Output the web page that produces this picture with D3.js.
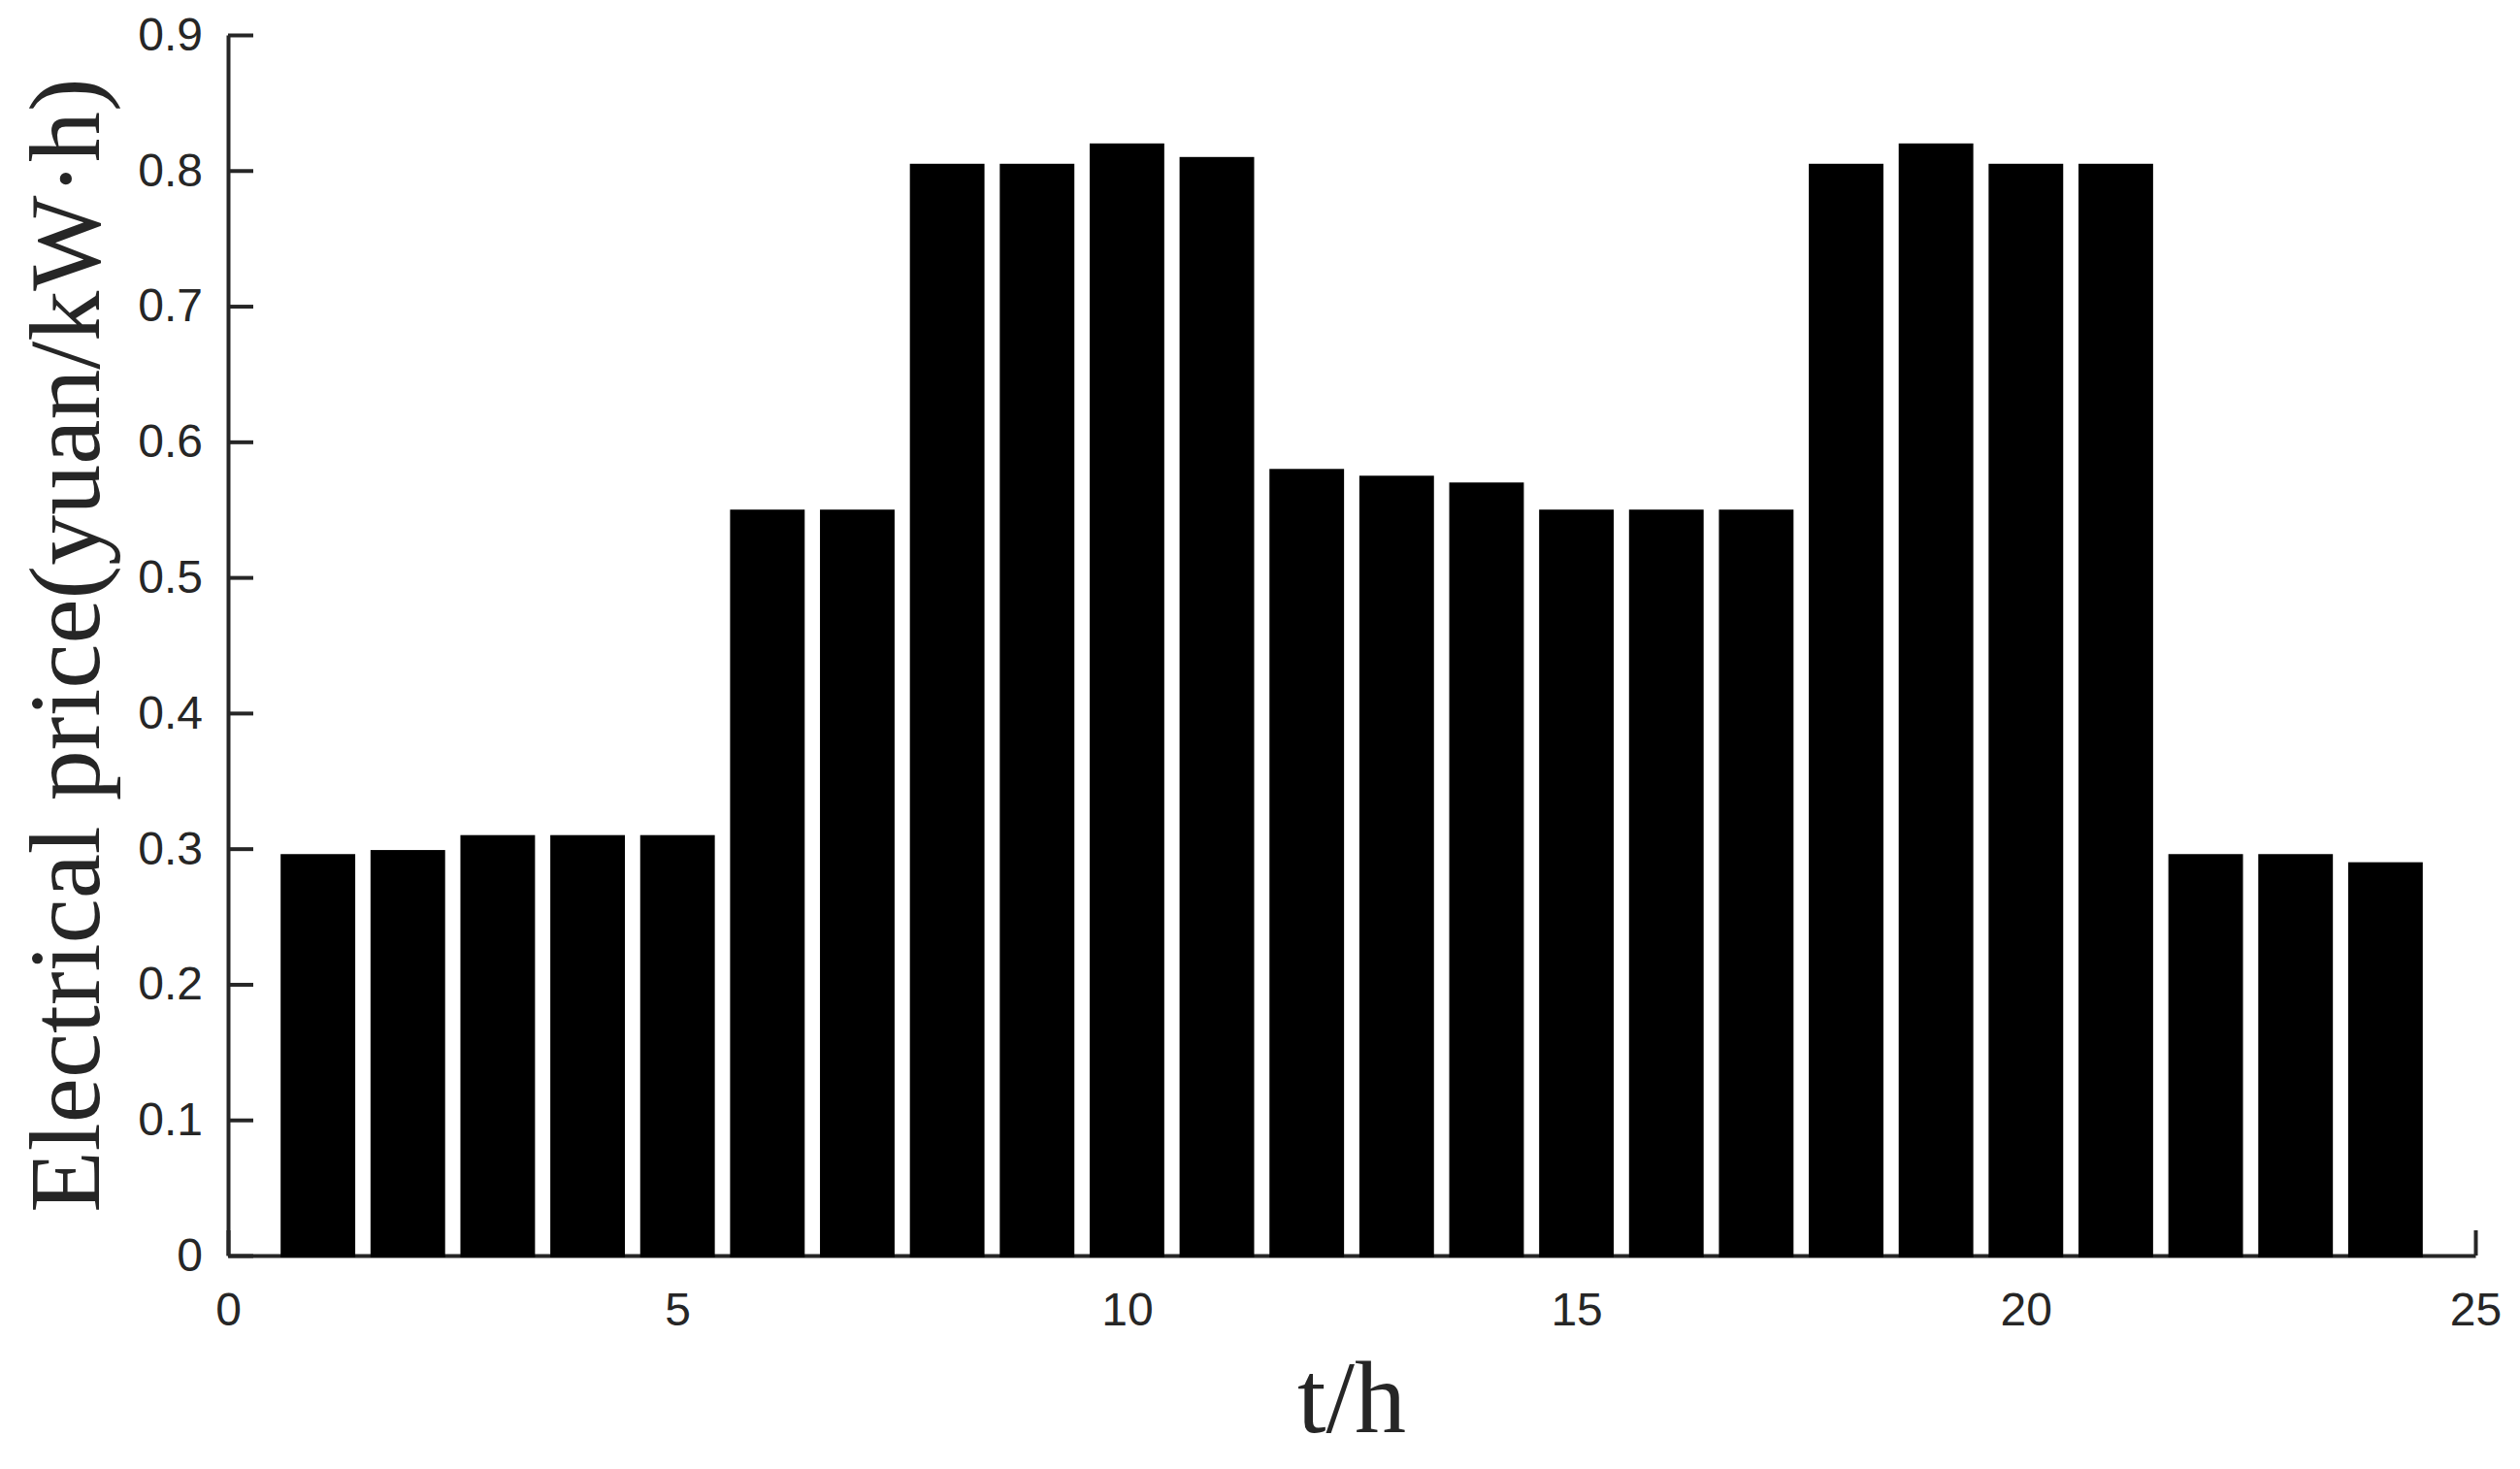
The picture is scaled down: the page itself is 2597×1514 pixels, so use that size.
<!DOCTYPE html>
<html>
<head>
<meta charset="utf-8">
<script src="https://cdn.jsdelivr.net/npm/d3@7"></script>
<style>
  html, body { margin: 0; padding: 0; background: #fff; }
  svg { display: block; }
</style>
</head>
<body>
<svg id="chart" width="2597" height="1514"></svg>
<script>
// hourly electricity price
const hours = d3.range(1, 25)
const prices = [0.296, 0.299, 0.31, 0.31, 0.31, 0.55, 0.55, 0.805, 0.805, 0.82, 0.81, 0.58,
  0.575, 0.57, 0.55, 0.55, 0.55, 0.805, 0.82, 0.805, 0.805, 0.296, 0.296, 0.29]
const xTicks = [0, 5, 10, 15, 20, 25]
const yTicks = [0, 0.1, 0.2, 0.3, 0.4, 0.5, 0.6, 0.7, 0.8, 0.9]
const yTickLabels = ["0", "0.1", "0.2", "0.3", "0.4", "0.5", "0.6", "0.7", "0.8", "0.9"]

const AXIS = "#262626"
const plotLeft = 235, plotRight = 2551, plotTop = 36, plotBottom = 1294

let svg = d3.select("#chart")

let x = d3.scaleLinear().domain([0, 25]).range([plotLeft, plotRight])
let y = d3.scaleLinear().domain([0, 0.9]).range([plotBottom, plotTop])
const barW = x(0.83) - x(0)

// axes, ticks point inward
let xAxis = d3.axisBottom(x)
  .tickValues(xTicks)
  .tickFormat(d3.format("d"))
  .tickSizeInner(-26)
  .tickSizeOuter(0)
  .tickPadding(38)

let yAxis = d3.axisLeft(y)
  .tickValues(yTicks)
  .tickFormat((d, i) => yTickLabels[i])
  .tickSizeInner(-26)
  .tickSizeOuter(0)
  .tickPadding(26)

let gx = svg.append("g")
  .attr("transform", `translate(0,${plotBottom})`)
  .call(xAxis)

let gy = svg.append("g")
  .attr("transform", `translate(${plotLeft},0)`)
  .call(yAxis)

for (const g of [gx, gy]) {
  g.select(".domain").attr("stroke", AXIS).attr("stroke-width", 4)
  g.selectAll(".tick line").attr("stroke", AXIS).attr("stroke-width", 4)
  g.selectAll(".tick text")
    .attr("fill", AXIS)
    .style("font-family", "'Liberation Sans', Arial, sans-serif")
    .style("font-size", "48px")
}

// bars drawn over the bottom axis line like in the original
svg.append("g")
  .selectAll("rect")
  .data(hours)
  .join("rect")
  .attr("x", (d) => x(d) - barW / 2)
  .attr("y", (d, i) => y(prices[i]))
  .attr("width", barW)
  .attr("height", (d, i) => y(0) - y(prices[i]) + 2)
  .attr("fill", "#000")

// axis titles
svg.append("text")
  .attr("x", (plotLeft + plotRight) / 2)
  .attr("y", 1476)
  .attr("text-anchor", "middle")
  .style("font-family", "'Liberation Serif', 'Times New Roman', serif")
  .style("font-size", "106px")
  .attr("fill", AXIS)
  .text("t/h")

svg.append("text")
  .attr("transform", `translate(102,${(plotTop + plotBottom) / 2}) rotate(-90)`)
  .attr("text-anchor", "middle")
  .style("font-family", "'Liberation Serif', 'Times New Roman', serif")
  .style("font-size", "104px")
  .attr("fill", AXIS)
  .text("Electrical price(yuan/kW·h)")
</script>
</body>
</html>
